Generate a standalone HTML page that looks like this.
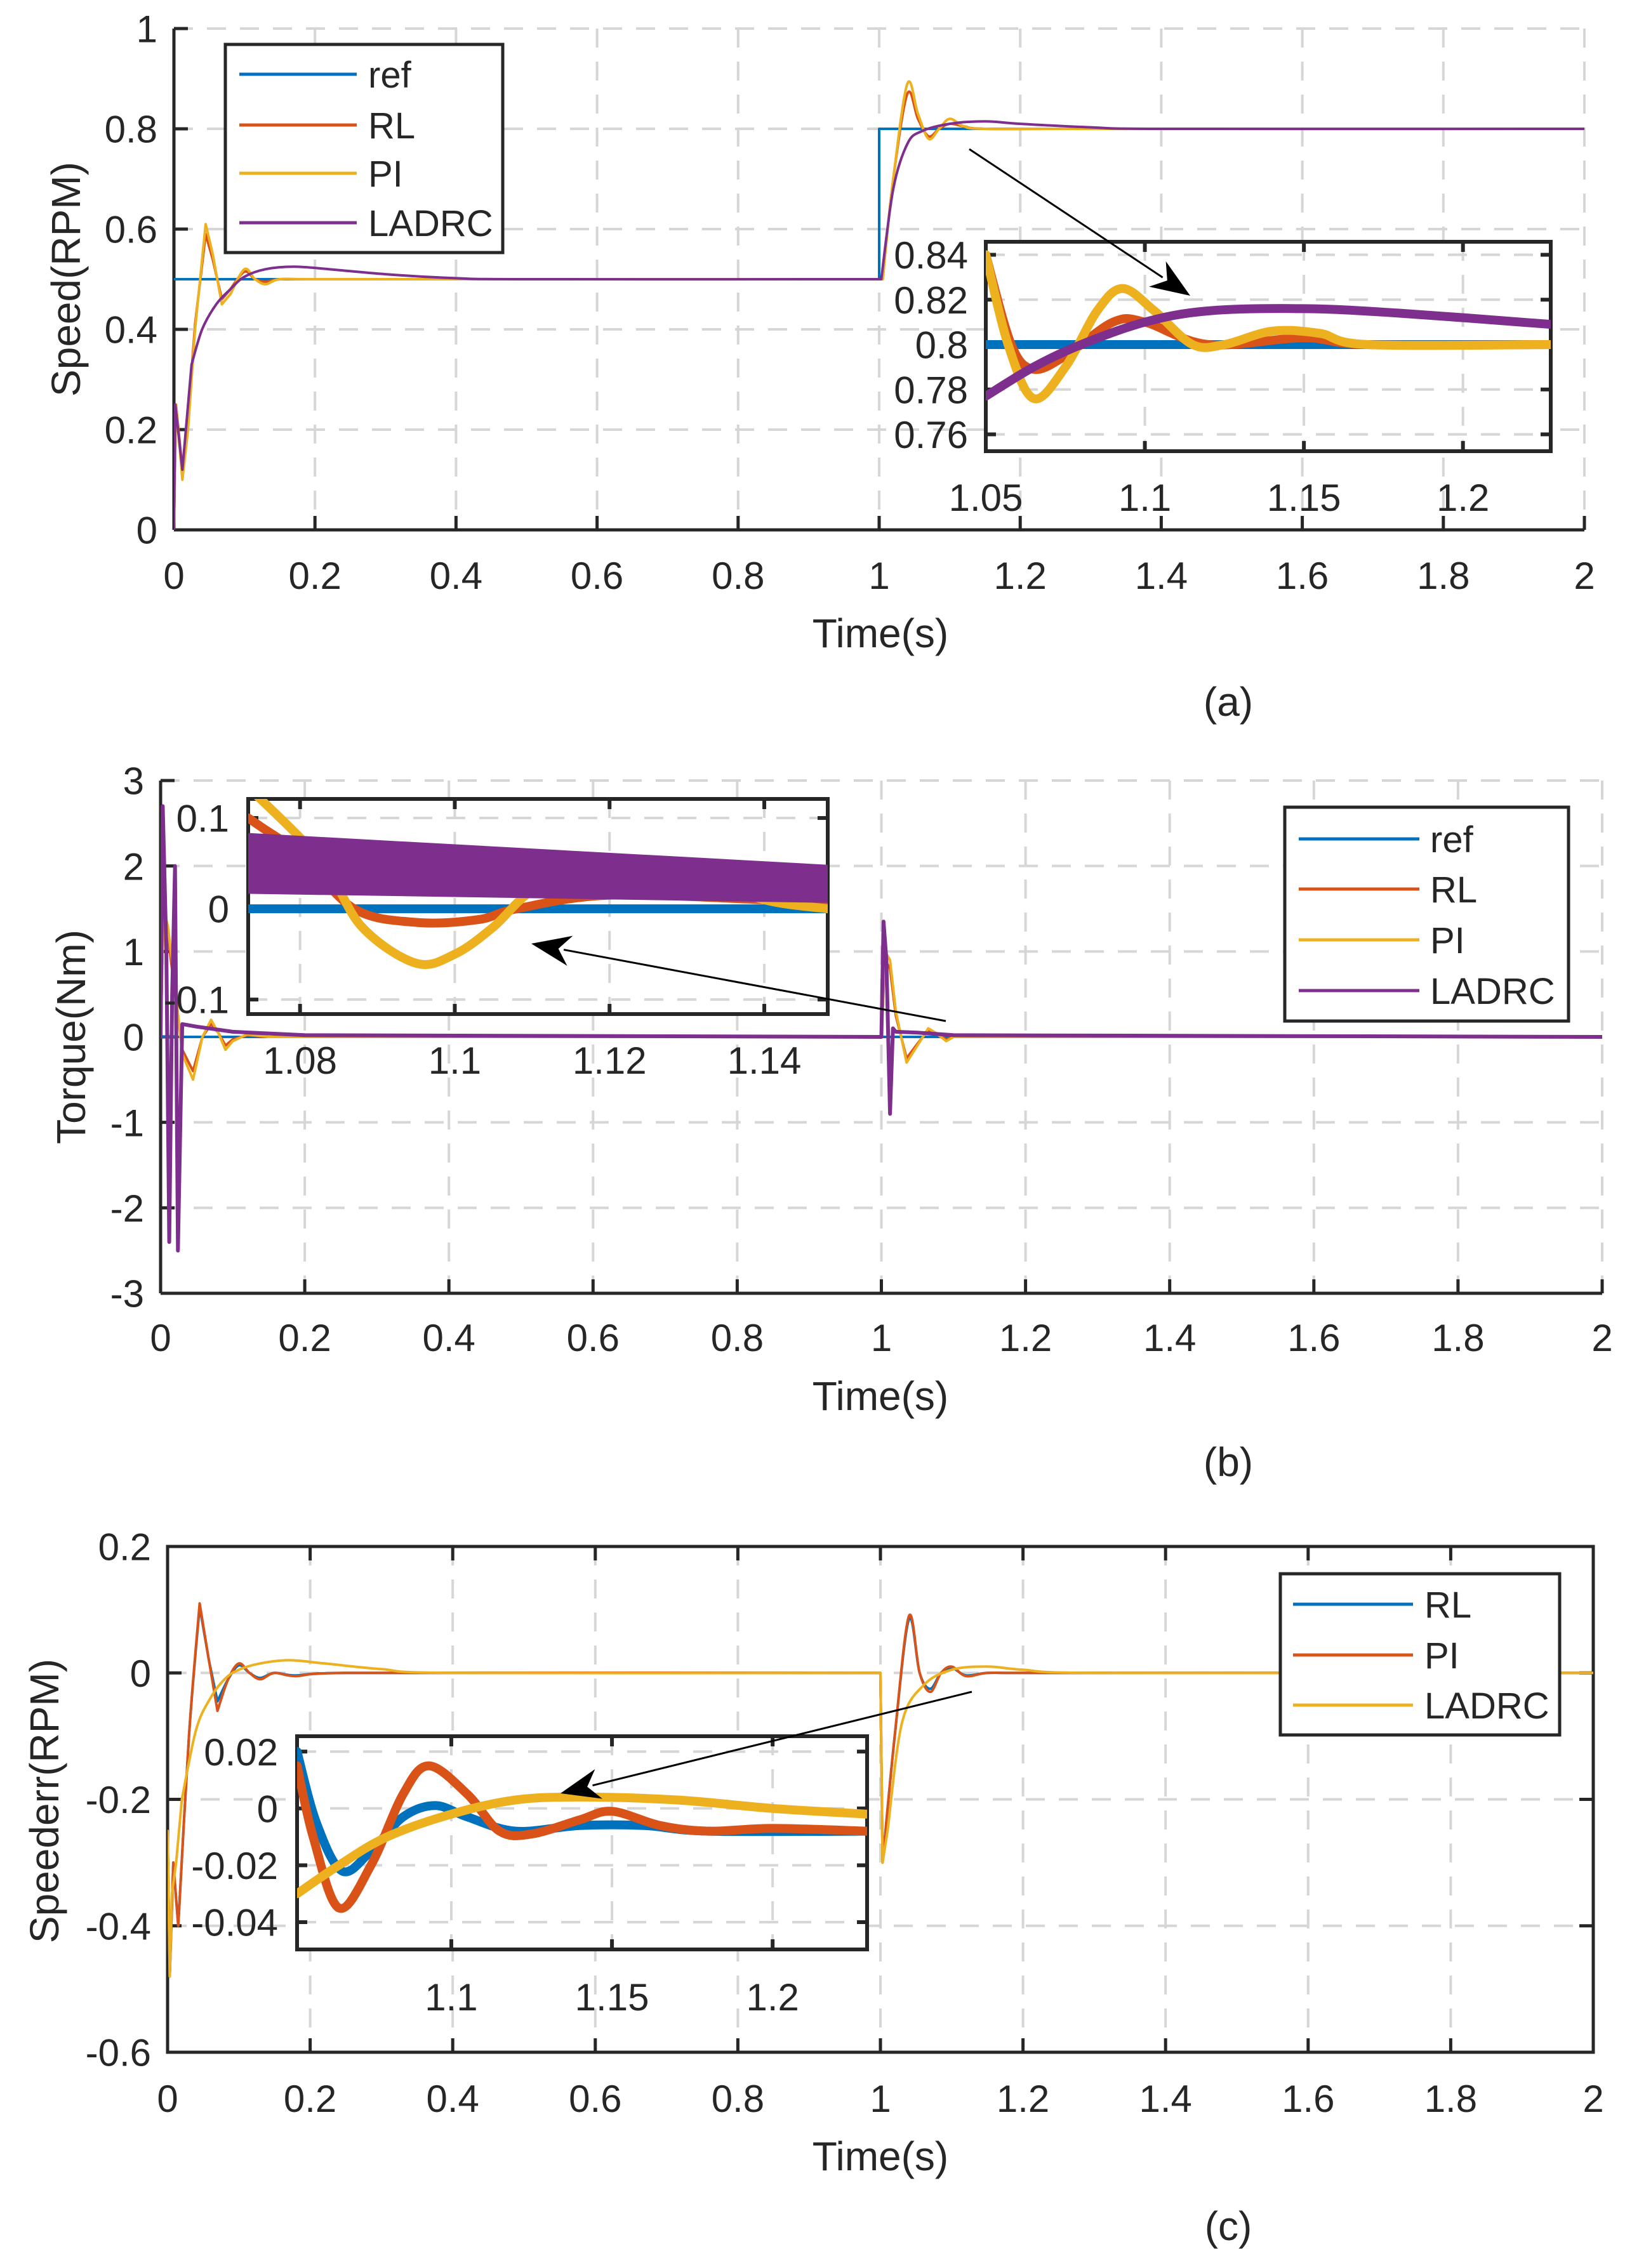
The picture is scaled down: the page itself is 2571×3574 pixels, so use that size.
<!DOCTYPE html>
<html><head><meta charset="utf-8"><style>
html,body{margin:0;padding:0;background:#fff;}
svg{display:block;}
text{font-family:"Liberation Sans",Arial,sans-serif;fill:#262626;}
</style></head>
<body>
<svg id="fig" xmlns="http://www.w3.org/2000/svg" width="2571" height="3574" viewBox="0 0 2571 3574"></svg>
<script>
// ---------- Panel (a) data: speed ----------
const aRefT = [0, 1, 1, 2];
const aRef  = [0.5, 0.5, 0.8, 0.8];
const aPIT  = [0,0.003,0.012,0.02,0.03,0.045,0.055,0.068,0.08,0.1,0.115,0.13,0.15,0.2,1.0,1.005,1.02,1.04,1.055,1.07,1.085,1.1,1.12,1.15,1.3,2];
const aPI   = [0,0.25,0.1,0.2,0.4,0.61,0.55,0.45,0.47,0.52,0.5,0.49,0.5,0.5,0.5,0.5,0.7,0.89,0.83,0.78,0.8,0.82,0.805,0.8,0.8,0.8];
const aRL   = [0,0.25,0.12,0.22,0.41,0.59,0.54,0.46,0.48,0.515,0.5,0.495,0.5,0.5,0.5,0.5,0.7,0.87,0.82,0.785,0.8,0.81,0.805,0.8,0.8,0.8];
const aLAT  = [0,0.002,0.012,0.025,0.04,0.06,0.08,0.1,0.13,0.17,0.22,0.3,0.4,0.5,1.0,1.003,1.02,1.04,1.06,1.1,1.15,1.2,1.3,1.4,2];
const aLA   = [0,0.25,0.12,0.33,0.4,0.45,0.48,0.505,0.52,0.525,0.52,0.51,0.502,0.5,0.5,0.5,0.68,0.77,0.795,0.81,0.815,0.81,0.803,0.8,0.8];
// inset (a)
const aiPIT = [1.05,1.057,1.065,1.075,1.085,1.093,1.103,1.115,1.125,1.14,1.155,1.17,1.2276];
const aiPI  = [0.84,0.80,0.776,0.79,0.815,0.825,0.815,0.80,0.80,0.806,0.805,0.80,0.80];
const aiRLT = [1.05,1.058,1.065,1.075,1.09,1.1,1.12,1.15,1.17,1.2276];
const aiRL  = [0.84,0.80,0.789,0.795,0.81,0.81,0.80,0.803,0.80,0.80];
const aiLAT = [1.05,1.065,1.08,1.1,1.12,1.15,1.18,1.2276];
const aiLA  = [0.777,0.79,0.80,0.81,0.815,0.816,0.814,0.809];
const aYTicks = [0,0.2,0.4,0.6,0.8,1];
const aYLabels = ["0","0.2","0.4","0.6","0.8","1"];
const xTicks = [0,0.2,0.4,0.6,0.8,1,1.2,1.4,1.6,1.8,2];
const xLabels = ["0","0.2","0.4","0.6","0.8","1","1.2","1.4","1.6","1.8","2"];
const aiXTicks = [1.05,1.1,1.15,1.2];
const aiXLabels = ["1.05","1.1","1.15","1.2"];
const aiYTicks = [0.76,0.78,0.8,0.82,0.84];
const aiYLabels = ["0.76","0.78","0.8","0.82","0.84"];

// ---------- Panel (b) data: torque ----------
const bRefT = [0, 2];
const bRef  = [0, 0];
const bPIT  = [0,0.004,0.01,0.02,0.03,0.045,0.058,0.07,0.08,0.09,0.1,0.12,0.15,1.0,1.005,1.012,1.02,1.035,1.05,1.065,1.075,1.09,1.1,1.12,2];
const bPI   = [0,1.5,1.3,0.6,-0.2,-0.5,0,0.2,0.05,-0.15,-0.05,0.03,0,0,1.0,0.9,0.3,-0.3,-0.1,0.1,0.05,-0.05,0,0,0];
const bRL   = [0,1.4,1.2,0.5,-0.15,-0.4,0,0.15,0.05,-0.1,-0.03,0.02,0,0,0.9,0.8,0.25,-0.25,-0.08,0.08,0.04,-0.03,0,0,0];
const bLAT  = [0,0.003,0.008,0.012,0.016,0.02,0.024,0.03,0.05,0.1,0.2,1.0,1.003,1.007,1.012,1.016,1.02,1.05,1.1,2];
const bLA   = [0,2.7,1.0,-2.4,0.5,2.0,-2.5,0.15,0.12,0.06,0.02,0,1.35,0.9,-0.9,0.1,0.06,0.05,0.02,0];
// inset (b)
const biPIT = [1.0733,1.075,1.083,1.088,1.095,1.1,1.105,1.11,1.118,1.122,1.13,1.14,1.1482];
const biPI  = [0.13,0.12,0.05,-0.02,-0.06,-0.05,-0.02,0.02,0.05,0.052,0.04,0.01,0.0];
const biRLT = [1.0733,1.075,1.08,1.087,1.095,1.103,1.108,1.12,1.14,1.1482];
const biRL  = [0.1,0.09,0.06,0.0,-0.015,-0.012,0,0.015,0.01,0.008];
const biLAT = [1.0733,1.1482];
const biLAHi = [0.08,0.045];
const biLALo = [0.02,0.01];
const bYTicks = [-3,-2,-1,0,1,2,3];
const bYLabels = ["-3","-2","-1","0","1","2","3"];
const biXTicks = [1.08,1.1,1.12,1.14];
const biXLabels = ["1.08","1.1","1.12","1.14"];
const biYTicks = [-0.1,0,0.1];
const biYLabels = ["-0.1","0","0.1"];

// ---------- Panel (c) data: speed error ----------
const cRLT = [0,0.003,0.008,0.015,0.03,0.045,0.058,0.07,0.085,0.1,0.115,0.13,0.15,0.18,0.25,0.98,1.0,1.003,1.02,1.04,1.055,1.07,1.085,1.1,1.12,1.15,1.2,2];
const cRL  = [-0.25,-0.48,-0.3,-0.4,-0.1,0.105,0.02,-0.045,-0.01,0.012,0,-0.008,0,-0.004,0,0,0,-0.3,-0.1,0.085,0.0,-0.025,0.0,0.008,-0.004,0,0,0];
const cPI  = [-0.25,-0.48,-0.3,-0.4,-0.1,0.11,0.02,-0.06,-0.01,0.015,0,-0.01,0,-0.005,0,0,0,-0.3,-0.1,0.09,0.0,-0.03,0.0,0.01,-0.005,0,0,0];
const cLAT = [0,0.003,0.006,0.012,0.02,0.04,0.06,0.08,0.1,0.13,0.17,0.22,0.3,0.4,0.98,1.0,1.003,1.01,1.03,1.06,1.1,1.15,1.2,1.3,2];
const cLA  = [-0.25,-0.48,-0.35,-0.3,-0.2,-0.09,-0.04,-0.01,0.005,0.015,0.02,0.015,0.006,0,0,0,-0.3,-0.25,-0.08,-0.02,0.005,0.01,0.005,0,0];
// inset (c)
const ciPIT = [1.052,1.057,1.065,1.075,1.085,1.093,1.105,1.115,1.125,1.14,1.15,1.165,1.18,1.2,1.2294];
const ciPI  = [0.015,-0.01,-0.035,-0.02,0.005,0.015,0.005,-0.008,-0.009,-0.004,-0.001,-0.006,-0.008,-0.007,-0.008];
const ciRLT = [1.052,1.058,1.066,1.075,1.085,1.095,1.105,1.12,1.14,1.16,1.18,1.2294];
const ciRL  = [0.02,-0.005,-0.022,-0.015,-0.003,0.001,-0.003,-0.008,-0.006,-0.006,-0.008,-0.008];
const ciLAT = [1.052,1.065,1.08,1.1,1.12,1.14,1.17,1.2,1.2294];
const ciLA  = [-0.03,-0.02,-0.01,-0.002,0.003,0.004,0.003,0.0,-0.002];
const cYTicks = [-0.6,-0.4,-0.2,0,0.2];
const cYLabels = ["-0.6","-0.4","-0.2","0","0.2"];
const ciXTicks = [1.1,1.15,1.2];
const ciXLabels = ["1.1","1.15","1.2"];
const ciYTicks = [-0.04,-0.02,0,0.02];
const ciYLabels = ["-0.04","-0.02","0","0.02"];

// ---------- drawing helpers ----------
const NS = "http://www.w3.org/2000/svg";
const svg = document.getElementById("fig");
const C = {blue:"#0072BD", orange:"#D95319", yellow:"#EDB120", purple:"#7E2F8E", ax:"#262626", grid:"#d6d6d6"};
function el(tag, attrs, parent){
  const e = document.createElementNS(NS, tag);
  for (const k in attrs) e.setAttribute(k, attrs[k]);
  (parent||svg).appendChild(e);
  return e;
}
function scale(d0,d1,p0,p1){ return v => p0 + (v-d0)/(d1-d0)*(p1-p0); }
function pathFrom(ts, vs, sx, sy, smooth){
  const p = ts.map((t,i)=>[sx(t), sy(vs[i])]);
  let d = "M"+p[0][0].toFixed(1)+","+p[0][1].toFixed(1);
  if (!smooth){ for (let i=1;i<p.length;i++) d += "L"+p[i][0].toFixed(1)+","+p[i][1].toFixed(1); return d; }
  const SHORT = 15;
  for (let i=0;i<p.length-1;i++){
    const p1=p[i], p2=p[i+1];
    if (p2[0]-p1[0] < SHORT){ d += "L"+p2[0].toFixed(1)+","+p2[1].toFixed(1); continue; }
    let p0 = p[Math.max(0,i-1)], p3 = p[Math.min(p.length-1,i+2)];
    if (p1[0]-p0[0] < SHORT) p0 = p1;
    if (p3[0]-p2[0] < SHORT) p3 = p2;
    const c1=[p1[0]+(p2[0]-p0[0])/6, p1[1]+(p2[1]-p0[1])/6];
    const c2=[p2[0]-(p3[0]-p1[0])/6, p2[1]-(p3[1]-p1[1])/6];
    c1[0]=Math.min(Math.max(c1[0],p1[0]),p2[0]); c2[0]=Math.min(Math.max(c2[0],p1[0]),p2[0]);
    d += "C"+c1[0].toFixed(1)+","+c1[1].toFixed(1)+" "+c2[0].toFixed(1)+","+c2[1].toFixed(1)+" "+p2[0].toFixed(1)+","+p2[1].toFixed(1);
  }
  return d;
}
let clipId = 0;
function axes(o){
  const g = el("g", {});
  
  
  const sx = scale(o.xr[0], o.xr[1], o.x0, o.x1);
  const sy = scale(o.yr[0], o.yr[1], o.y1, o.y0);
  if (o.inset) el("rect", {x:o.x0, y:o.y0, width:o.x1-o.x0, height:o.y1-o.y0, fill:"#fff"}, g);
  const grid = el("g", {stroke:C.grid, "stroke-width":4, "stroke-dasharray":"30 22", fill:"none"}, g);
  
  
  o.xt.forEach(t => { const x=sx(t); el("line",{x1:x,x2:x,y1:o.y0,y2:o.y1},grid); });
  o.yt.forEach(t => { const y=sy(t); el("line",{x1:o.x0,x2:o.x1,y1:y,y2:y},grid); });
  const tk = o.inset ? 16 : 22;
  const ax = el("g", {stroke:C.ax, "stroke-width":o.inset?6:5, fill:"none"}, g);
  
  
  o.xt.forEach(t => { const x=sx(t);
    el("line",{x1:x,x2:x,y1:o.y1,y2:o.y1-tk},ax);
    if (o.box) el("line",{x1:x,x2:x,y1:o.y0,y2:o.y0+tk},ax); });
  o.yt.forEach(t => { const y=sy(t);
    el("line",{x1:o.x0,x2:o.x0+tk,y1:y,y2:y},ax);
    if (o.box) el("line",{x1:o.x1,x2:o.x1-tk,y1:y,y2:y},ax); });
  if (o.box) el("rect",{x:o.x0,y:o.y0,width:o.x1-o.x0,height:o.y1-o.y0},ax);
  else { el("line",{x1:o.x0,x2:o.x0,y1:o.y0,y2:o.y1},ax); el("line",{x1:o.x0,x2:o.x1,y1:o.y1,y2:o.y1},ax); }
  const fs = o.fs || 60;
  o.xt.forEach((t,i) => { const tx = el("text",{x:sx(t), y:o.xlabY, "font-size":fs, "text-anchor":"middle"}, g);
      tx.textContent=o.xl[i]; });
  o.yt.forEach((t,i) => { const tx = el("text",{x:o.x0-(o.ylGap||26), y:sy(t)+fs*0.36, "font-size":fs, "text-anchor":"end"}, g);
      tx.textContent=o.yl[i]; });
  clipId++;
  const cp = el("clipPath", {id:"cp"+clipId}, g);
  el("rect", {x:o.x0, y:o.y0-(o.inset?0:40), width:o.x1-o.x0, height:o.y1-o.y0+(o.inset?0:40)}, cp);
  const series = el("g", {"clip-path":"url(#cp"+clipId+")", fill:"none", "stroke-linejoin":"round", "stroke-linecap":"round"}, g);
  return {g, sx, sy, series};
}
function line(ax, name, ts, vs, color, w, smooth){
  const p = el("path", {d:pathFrom(ts, vs, ax.sx, ax.sy, smooth), stroke:color, "stroke-width":w}, ax.series);
  
  
  return p;
}
function text(x, y, s, fs, name, anchor, extra){
  const t = el("text", Object.assign({x, y, "font-size":fs, "text-anchor":anchor||"middle"}, extra||{}));
  
  
  t.textContent = s;
  return t;
}
function legend(name, x0, y0, x1, y1, lx0, lx1, tx, rows){
  const g = el("g", {});
  
  
  el("rect", {x:x0, y:y0, width:x1-x0, height:y1-y0, fill:"#fff", stroke:C.ax, "stroke-width":5}, g);
  rows.forEach(r => {
    const e = el("g", {}, g);
    
    
    el("line", {x1:lx0, x2:lx1, y1:r[2], y2:r[2], stroke:r[1], "stroke-width":5}, e);
    const t = el("text", {x:tx, y:r[2]+21, "font-size":58}, e);
    t.textContent = r[0];
  });
}
function arrow(name, x1, y1, x2, y2){
  const g = el("g", {});
  
  
  const a = Math.atan2(y2-y1, x2-x1), L = 62, W = 24;
  const bx = x2 - L*Math.cos(a), by = y2 - L*Math.sin(a);
  el("line", {x1, y1, x2:bx+10*Math.cos(a), y2:by+10*Math.sin(a), stroke:"#000", "stroke-width":3}, g);
  const px = -Math.sin(a), py = Math.cos(a);
  const nx = x2 - 0.7*L*Math.cos(a), ny = y2 - 0.7*L*Math.sin(a);
  el("polygon", {points:`${x2},${y2} ${bx+W*px},${by+W*py} ${nx},${ny} ${bx-W*px},${by-W*py}`, fill:"#000"}, g);
}

// ---------- Panel (a) ----------
const A = axes({name:"speed-axes", x0:274, x1:2496, y0:45, y1:835, xr:[0,2], yr:[0,1], xt:xTicks, xl:xLabels, yt:aYTicks, yl:aYLabels, box:false, xlabY:928});
line(A, "speed-ref-line", aRefT, aRef, C.blue, 4, false);
line(A, "speed-rl-line", aPIT, aRL, C.orange, 4, true);
line(A, "speed-pi-line", aPIT, aPI, C.yellow, 4, true);
line(A, "speed-ladrc-line", aLAT, aLA, C.purple, 4, true);
text(104, 440, "Speed(RPM)", 64, "speed-y-axis-title", "middle", {transform:"rotate(-90 104 440)", dy:"22"});
text(1387, 1020, "Time(s)", 64, "speed-x-axis-title");
legend("speed-legend", 355, 70, 792, 398, 377, 562, 580, [["ref",C.blue,117],["RL",C.orange,197],["PI",C.yellow,273],["LADRC",C.purple,351]]);
const AI = axes({name:"speed-inset-axes", x0:1553, x1:2443, y0:381, y1:711, xr:[1.05,1.2276], yr:[0.7525,0.8458], xt:aiXTicks, xl:aiXLabels, yt:aiYTicks, yl:aiYLabels, box:true, inset:true, xlabY:805, ylGap:28});
line(AI, "speed-inset-ref-line", [1.05,1.2276], [0.8,0.8], C.blue, 14, false);
line(AI, "speed-inset-rl-line", aiRLT, aiRL, C.orange, 14, true);
line(AI, "speed-inset-pi-line", aiPIT, aiPI, C.yellow, 14, true);
line(AI, "speed-inset-ladrc-line", aiLAT, aiLA, C.purple, 14, true);
arrow("speed-zoom-arrow", 1527, 235, 1875, 466);
text(1935, 1128, "(a)", 64, "panel-a-caption", "middle", {"font-family":"Liberation Serif, serif"});

// ---------- Panel (b) ----------
const B = axes({name:"torque-axes", x0:253, x1:2524, y0:1230, y1:2038, xr:[0,2], yr:[-3,3], xt:xTicks, xl:xLabels, yt:bYTicks, yl:bYLabels, box:false, xlabY:2129});
line(B, "torque-ref-line", bRefT, bRef, C.blue, 4, false);
line(B, "torque-rl-line", bPIT, bRL, C.orange, 4, false);
line(B, "torque-pi-line", bPIT, bPI, C.yellow, 4, false);
line(B, "torque-ladrc-line", bLAT, bLA, C.purple, 6, false);
text(112, 1634, "Torque(Nm)", 64, "torque-y-axis-title", "middle", {transform:"rotate(-90 112 1634)", dy:"22"});
text(1387, 2222, "Time(s)", 64, "torque-x-axis-title");
legend("torque-legend", 2024, 1272, 2471, 1609, 2046, 2236, 2253, [["ref",C.blue,1322],["RL",C.orange,1401],["PI",C.yellow,1481],["LADRC",C.purple,1561]]);
const BI = axes({name:"torque-inset-axes", x0:391, x1:1304, y0:1259, y1:1598, xr:[1.0733,1.1482], yr:[-0.116,0.121], xt:biXTicks, xl:biXLabels, yt:biYTicks, yl:biYLabels, box:true, inset:true, xlabY:1692, ylGap:30});
line(BI, "torque-inset-ref-line", [1.0733,1.1482], [0,0], C.blue, 14, false);
line(BI, "torque-inset-rl-line", biRLT, biRL, C.orange, 14, true);
line(BI, "torque-inset-pi-line", biPIT, biPI, C.yellow, 14, true);
{
  const pts = biLAT.map((t,i)=>BI.sx(t)+","+BI.sy(biLAHi[i])).concat(biLAT.slice().reverse().map((t,j)=>{const i=biLAT.length-1-j; return BI.sx(t)+","+BI.sy(biLALo[i]);}));
  const band = el("polygon", {points:pts.join(" "), fill:C.purple, stroke:C.purple, "stroke-width":10}, BI.series);
  
  
}
arrow("torque-zoom-arrow", 1490, 1609, 837, 1487);
text(1935, 2326, "(b)", 64, "panel-b-caption", "middle", {"font-family":"Liberation Serif, serif"});

// ---------- Panel (c) ----------
const Cc = axes({name:"speederr-axes", x0:264, x1:2510, y0:2437, y1:3234, xr:[0,2], yr:[-0.6,0.2], xt:xTicks, xl:xLabels, yt:cYTicks, yl:cYLabels, box:true, xlabY:3328});
line(Cc, "speederr-rl-line", cRLT, cRL, C.blue, 4, true);
line(Cc, "speederr-pi-line", cRLT, cPI, C.orange, 4, true);
line(Cc, "speederr-ladrc-line", cLAT, cLA, C.yellow, 4, true);
text(70, 2838, "Speederr(RPM)", 64, "speederr-y-axis-title", "middle", {transform:"rotate(-90 70 2838)", dy:"22"});
text(1387, 3420, "Time(s)", 64, "speederr-x-axis-title");
legend("speederr-legend", 2017, 2480, 2457, 2734, 2037, 2226, 2244, [["RL",C.blue,2528],["PI",C.orange,2608],["LADRC",C.yellow,2687]]);
const CI = axes({name:"speederr-inset-axes", x0:468, x1:1366, y0:2736, y1:3072, xr:[1.052,1.2294], yr:[-0.0496,0.0254], xt:ciXTicks, xl:ciXLabels, yt:ciYTicks, yl:ciYLabels, box:true, inset:true, xlabY:3168, ylGap:30});
line(CI, "speederr-inset-rl-line", ciRLT, ciRL, C.blue, 14, true);
line(CI, "speederr-inset-pi-line", ciPIT, ciPI, C.orange, 14, true);
line(CI, "speederr-inset-ladrc-line", ciLAT, ciLA, C.yellow, 14, true);
arrow("speederr-zoom-arrow", 1531, 2666, 883, 2826);
text(1935, 3530, "(c)", 64, "panel-c-caption", "middle", {"font-family":"Liberation Serif, serif"});
</script>
</body></html>
